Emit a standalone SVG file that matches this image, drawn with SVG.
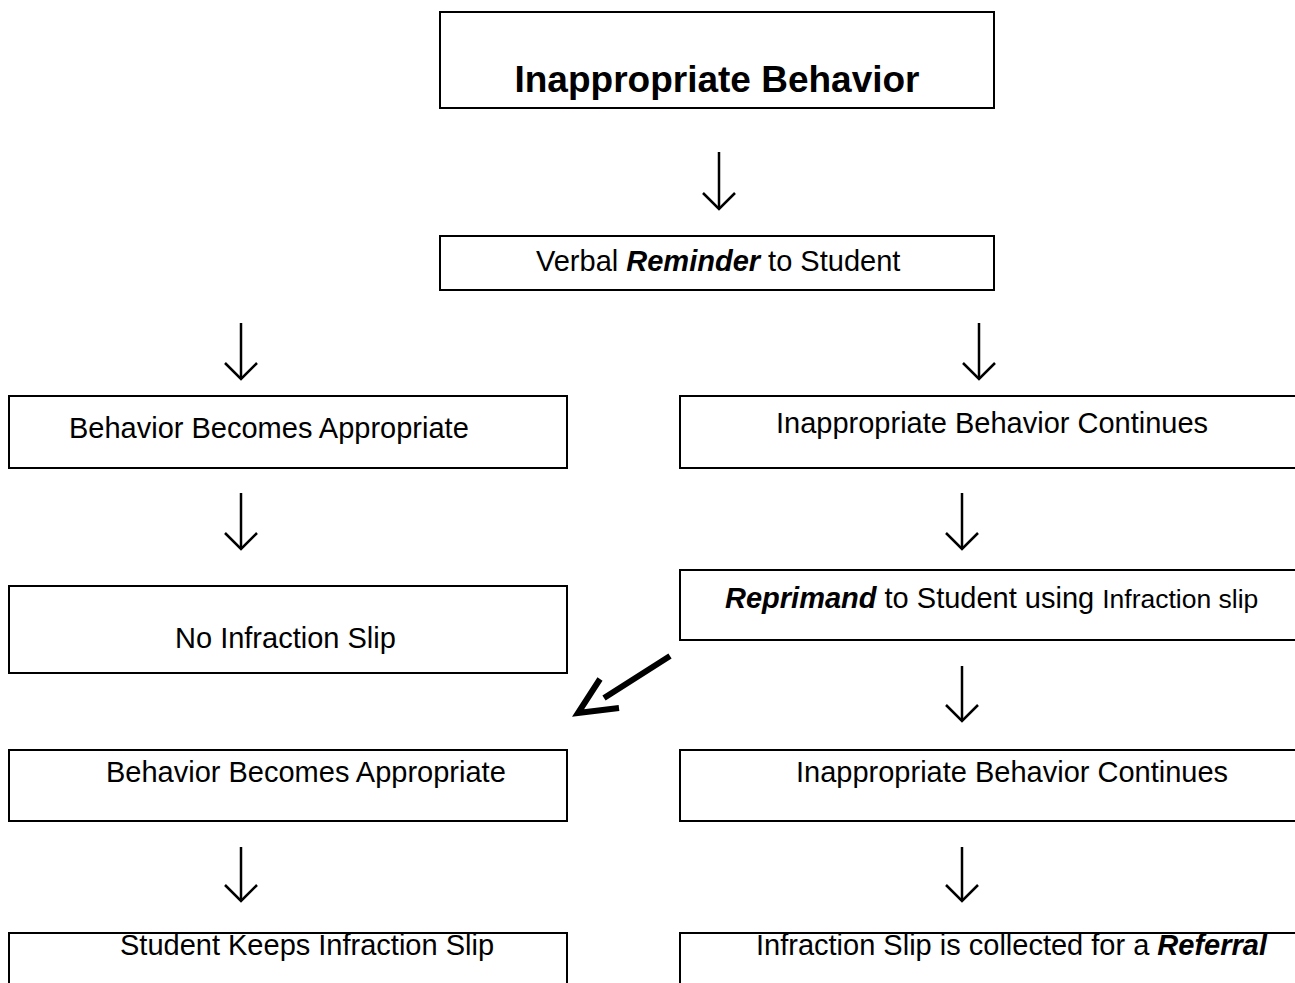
<svg xmlns="http://www.w3.org/2000/svg" width="1295" height="983" viewBox="0 0 1295 983">
<style>
.box{fill:#fff;stroke:#000;stroke-width:2}
.t{font-family:"Liberation Sans",Arial,sans-serif;font-size:29px;fill:#000}
.title{font-size:37px;font-weight:bold}
.small{font-size:26.5px}
.bi{font-weight:bold;font-style:italic}
.conn{fill:none;stroke:#000;stroke-width:2.5}
.thick{fill:none;stroke:#000;stroke-width:6;stroke-linejoin:miter}
</style>
<defs>
<marker id="head" markerUnits="userSpaceOnUse" viewBox="-20 -20 24 40" refX="0" refY="0" markerWidth="24" markerHeight="40" orient="auto">
<path d="M-16,-16 L0,0 L-16,16" fill="none" stroke="#000" stroke-width="2.5"/>
</marker>
</defs>
<rect width="1295" height="983" fill="#fff"/>
<g id="n1"><rect class="box" x="440" y="12" width="554" height="96"/><text class="t title" x="717" y="92" text-anchor="middle">Inappropriate Behavior</text></g>
<g id="n2"><rect class="box" x="440" y="236" width="554" height="54"/><text class="t" x="536" y="271">Verbal <tspan class="bi">Reminder</tspan> to Student</text></g>
<g id="n3"><rect class="box" x="9" y="396" width="558" height="72"/><text class="t" x="69" y="438">Behavior Becomes Appropriate</text></g>
<g id="n4"><rect class="box" x="680" y="396" width="620" height="72"/><text class="t" x="776" y="433">Inappropriate Behavior Continues</text></g>
<g id="n5"><rect class="box" x="9" y="586" width="558" height="87"/><text class="t" x="175" y="648">No Infraction Slip</text></g>
<g id="n6"><rect class="box" x="680" y="570" width="620" height="70"/><text class="t" x="725" y="608"><tspan class="bi">Reprimand</tspan> to Student using <tspan class="small">Infraction slip</tspan></text></g>
<g id="n7"><rect class="box" x="9" y="750" width="558" height="71"/><text class="t" x="106" y="782">Behavior Becomes Appropriate</text></g>
<g id="n8"><rect class="box" x="680" y="750" width="620" height="71"/><text class="t" x="796" y="782">Inappropriate Behavior Continues</text></g>
<g id="n9"><rect class="box" x="9" y="933" width="558" height="60"/><text class="t" x="120" y="955">Student Keeps Infraction Slip</text></g>
<g id="n10"><rect class="box" x="680" y="933" width="620" height="60"/><text class="t" x="756" y="955">Infraction Slip is collected for a <tspan class="bi">Referral</tspan></text></g>
<g id="connectors">
<path class="conn" marker-end="url(#head)" d="M719,152 L719,209"/>
<path class="conn" marker-end="url(#head)" d="M241,323 L241,379"/>
<path class="conn" marker-end="url(#head)" d="M979,323 L979,379"/>
<path class="conn" marker-end="url(#head)" d="M241,493 L241,549"/>
<path class="conn" marker-end="url(#head)" d="M962,493 L962,549"/>
<path class="conn" marker-end="url(#head)" d="M962,666 L962,721"/>
<path class="conn" marker-end="url(#head)" d="M241,847 L241,901"/>
<path class="conn" marker-end="url(#head)" d="M962,847 L962,901"/>
<path class="thick" d="M670,656 L604,698 M600,679 L578,713 L619,708"/>
</g>
</svg>
